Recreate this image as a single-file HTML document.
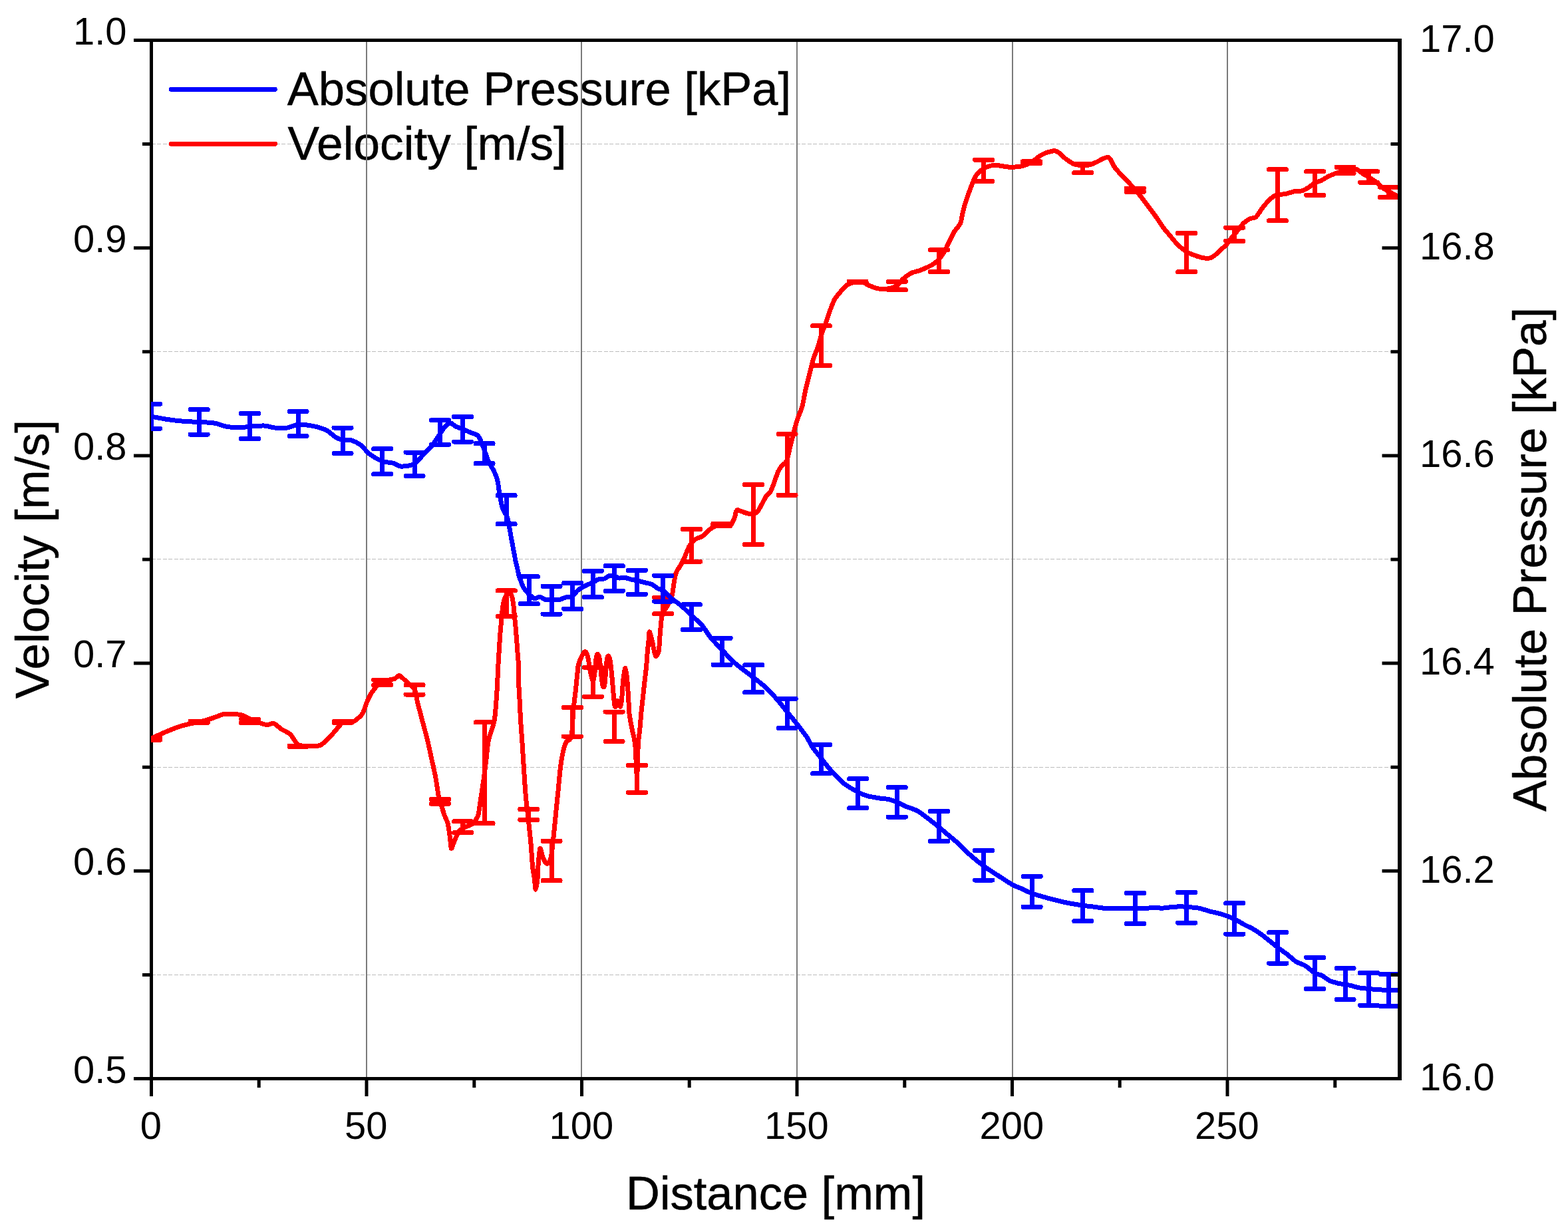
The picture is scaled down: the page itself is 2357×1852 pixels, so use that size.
<!DOCTYPE html>
<html lang="en"><head><meta charset="utf-8"><title>Velocity and Absolute Pressure vs Distance</title>
<style>
html,body{margin:0;padding:0;background:#fff;}
body{width:2357px;height:1852px;overflow:hidden;}
svg{display:block;}
text{font-family:"Liberation Sans",Arial,Helvetica,sans-serif;fill:#000;}
.l,.g{stroke:#000;stroke-width:0.5px;}
.t{font-size:57.9px;}
.l{font-size:70.4px;}
.g{font-size:70.4px;}
</style></head><body>
<svg width="2357" height="1852" viewBox="0 0 2357 1852">
<rect width="2357" height="1852" fill="#fff"/>
<defs><clipPath id="c"><rect x="227" y="60.5" width="1877.5" height="1561.0"/></clipPath></defs>

<path d="M227.5 1465.5H2104.5M227.5 1153.5H2104.5M227.5 840.5H2104.5M227.5 528.5H2104.5M227.5 216.5H2104.5" stroke="#bcbcbc" stroke-width="1" stroke-dasharray="6 2.5" fill="none" shape-rendering="crispEdges"/>
<text class="g" x="431.76" y="157.75" textLength="757.42" lengthAdjust="spacingAndGlyphs">Absolute Pressure [kPa]</text>
<text class="g" x="432.59" y="239.60" textLength="419.24" lengthAdjust="spacingAndGlyphs">Velocity [m/s]</text>
<path d="M551 60.5V1621.5M874 60.5V1621.5M1198 60.5V1621.5M1522 60.5V1621.5M1845 60.5V1621.5" stroke="#7a7a7a" stroke-width="2" fill="none" shape-rendering="crispEdges"/>
<path d="M2104.5 60.5H227.5V1621.5H2104.5M227.5 1621.5h-26.5M227.5 1309.3h-26.5M227.5 997.1h-26.5M227.5 684.9h-26.5M227.5 372.7h-26.5M227.5 60.5h-26.5M227.5 1465.4h-13.5M227.5 1153.2h-13.5M227.5 841.0h-13.5M227.5 528.8h-13.5M227.5 216.6h-13.5M227.5 1621.5v26.5M551.0 1621.5v26.5M874.5 1621.5v26.5M1198.0 1621.5v26.5M1521.5 1621.5v26.5M1845.0 1621.5v26.5M389.2 1621.5v13.5M712.8 1621.5v13.5M1036.2 1621.5v13.5M1359.8 1621.5v13.5M1683.2 1621.5v13.5M2006.8 1621.5v13.5" stroke="#000" stroke-width="5.0" fill="none" stroke-linejoin="miter"/>
<path d="M257.4 134.4H413.4" stroke="#0000ff" stroke-width="7" stroke-linecap="round" shape-rendering="crispEdges"/>
<path d="M257.4 216.3H413.4" stroke="#ff0000" stroke-width="7" stroke-linecap="round" shape-rendering="crispEdges"/>
<g clip-path="url(#c)" fill="none" stroke-linejoin="round" stroke-linecap="round" shape-rendering="crispEdges">
<path d="M227.6 1109.9C229.5 1109.0 238.7 1104.9 242.2 1103.3C245.7 1101.7 250.5 1099.6 253.9 1098.2C257.3 1096.8 264.2 1094.1 267.9 1092.8C271.6 1091.5 277.8 1089.8 282.0 1088.8C286.2 1087.8 295.0 1086.2 299.1 1085.3C303.2 1084.4 308.7 1082.9 312.4 1081.8C316.1 1080.7 323.4 1078.2 326.5 1077.1C329.6 1076.0 332.7 1074.1 335.8 1073.6C338.9 1073.1 346.2 1073.1 349.9 1073.3C353.6 1073.5 360.5 1074.2 363.9 1075.2C367.3 1076.2 372.2 1079.1 375.6 1080.6C379.0 1082.1 386.3 1085.3 389.7 1086.5C393.1 1087.7 398.4 1089.4 401.4 1089.5C404.4 1089.6 409.1 1086.8 411.9 1087.6C414.7 1088.4 419.2 1093.6 422.5 1095.8C425.8 1098.0 433.1 1100.9 436.5 1104.0C439.9 1107.1 444.3 1117.0 448.0 1119.3C451.7 1121.6 460.2 1121.5 464.6 1121.6C469.0 1121.7 477.3 1121.8 481.0 1120.4C484.7 1119.0 489.6 1114.1 492.7 1111.1C495.8 1108.1 501.4 1101.5 504.4 1098.2C507.4 1094.9 511.6 1088.2 515.0 1086.5C518.4 1084.8 526.3 1087.0 530.2 1085.3C534.1 1083.6 541.5 1077.5 544.3 1073.6C547.1 1069.7 549.4 1060.2 551.3 1056.0C553.2 1051.8 555.8 1045.7 558.3 1042.0C560.8 1038.3 566.6 1030.5 570.0 1027.9C573.4 1025.3 581.0 1023.5 584.1 1022.5C587.2 1021.5 591.2 1021.1 593.4 1020.2C595.6 1019.3 598.0 1014.9 600.5 1015.7C603.0 1016.5 609.2 1023.3 612.2 1026.0C615.2 1028.7 620.9 1032.1 623.0 1036.1C625.1 1040.1 626.1 1049.8 627.7 1056.2C629.3 1062.6 633.0 1076.5 635.0 1084.0C637.0 1091.5 640.7 1104.9 642.5 1112.4C644.3 1119.9 647.0 1132.5 648.6 1140.0C650.2 1147.5 653.4 1161.0 654.8 1168.6C656.2 1176.2 658.1 1190.9 659.3 1196.7C660.5 1202.5 662.9 1208.3 664.0 1212.0C665.1 1215.7 666.6 1221.3 667.8 1224.8C669.0 1228.3 672.0 1233.6 673.1 1238.0C674.2 1242.4 675.6 1253.0 676.3 1258.0C677.0 1263.0 677.5 1274.4 678.3 1275.5C679.1 1276.6 680.9 1269.4 682.4 1266.0C683.9 1262.6 687.6 1252.8 689.9 1249.8C692.2 1246.8 696.6 1244.8 699.3 1243.3C702.0 1241.8 708.3 1240.1 710.5 1238.5C712.7 1236.9 714.9 1232.8 716.0 1231.0C717.1 1229.2 718.0 1229.4 719.0 1224.8C720.0 1220.2 722.2 1204.2 723.3 1196.7C724.4 1189.2 726.5 1176.1 727.5 1168.6C728.5 1161.1 730.1 1148.0 731.0 1140.5C731.9 1133.0 732.9 1119.9 734.5 1112.4C736.1 1104.9 741.4 1091.8 742.9 1084.3C744.4 1076.8 745.2 1063.7 745.8 1056.2C746.4 1048.7 747.2 1035.6 747.6 1028.1C748.0 1020.6 748.6 1006.2 748.9 1000.0C749.2 993.8 749.6 988.0 750.0 981.8C750.4 975.6 751.3 960.2 751.8 953.7C752.3 947.2 753.2 938.6 753.7 933.1C754.2 927.6 755.0 916.9 755.6 912.5C756.2 908.1 757.5 902.8 758.4 900.3C759.3 897.8 761.1 895.2 762.0 894.0C762.9 892.8 764.1 891.4 765.0 891.5C765.9 891.6 767.8 892.5 768.7 894.5C769.6 896.5 770.9 902.7 771.5 906.8C772.1 910.9 772.9 920.6 773.4 925.6C773.9 930.6 774.8 939.3 775.2 944.3C775.6 949.3 776.3 958.0 776.7 963.0C777.1 968.0 777.7 976.8 778.1 981.8C778.5 986.8 779.3 994.3 779.5 1000.5C779.7 1006.7 779.6 1020.7 779.8 1028.1C780.0 1035.5 780.9 1048.7 781.3 1056.2C781.7 1063.7 782.2 1076.8 782.7 1084.3C783.2 1091.8 784.2 1104.9 784.7 1112.4C785.2 1119.9 786.0 1133.0 786.5 1140.5C787.0 1148.0 787.8 1161.1 788.3 1168.6C788.8 1176.1 789.6 1188.9 790.3 1196.7C791.0 1204.5 792.7 1218.3 793.7 1227.4C794.7 1236.5 796.8 1254.8 797.7 1264.8C798.6 1274.8 799.8 1294.8 800.5 1302.3C801.2 1309.8 802.7 1316.3 803.3 1321.0C803.9 1325.7 804.6 1337.5 805.2 1337.5C805.8 1337.5 807.5 1325.7 808.0 1321.0C808.5 1316.3 808.4 1308.3 808.9 1302.3C809.4 1296.3 810.8 1277.7 811.7 1275.7C812.6 1273.7 814.4 1284.5 815.5 1287.3C816.6 1290.1 819.0 1295.3 820.1 1296.7C821.2 1298.1 822.4 1298.9 823.5 1298.0C824.6 1297.1 826.9 1294.4 828.0 1290.0C829.1 1285.6 830.5 1273.1 831.4 1264.8C832.3 1256.5 834.1 1237.4 835.1 1227.4C836.1 1217.4 837.9 1199.9 838.9 1189.9C839.9 1179.9 841.6 1160.4 842.6 1152.4C843.6 1144.4 845.3 1134.8 846.4 1129.9C847.5 1125.0 849.7 1118.0 851.1 1115.5C852.5 1113.0 855.8 1113.3 857.0 1111.0C858.2 1108.7 859.4 1103.6 860.0 1098.4C860.6 1093.2 861.1 1077.6 861.5 1072.0C861.9 1066.4 862.6 1060.9 863.1 1056.2C863.6 1051.5 864.8 1042.8 865.4 1037.1C866.0 1031.4 867.3 1018.4 867.8 1013.7C868.3 1009.0 868.5 1004.5 868.9 1002.0C869.3 999.5 870.1 997.1 870.9 994.9C871.7 992.7 873.9 987.7 875.0 985.6C876.1 983.5 878.1 979.7 879.1 979.5C880.1 979.3 881.8 981.7 882.6 983.8C883.4 985.9 884.4 991.5 885.0 994.9C885.6 998.3 886.7 1005.7 887.3 1009.0C887.9 1012.3 889.2 1017.6 889.7 1019.5C890.2 1021.4 890.7 1023.6 891.1 1023.6C891.5 1023.6 892.3 1022.4 892.8 1019.5C893.3 1016.6 894.5 1006.1 894.9 1002.0C895.3 997.9 895.7 991.6 896.1 989.1C896.5 986.6 897.6 983.4 898.2 983.2C898.8 983.0 900.2 985.4 900.8 987.9C901.4 990.4 902.1 997.8 902.6 1002.0C903.1 1006.2 903.8 1015.6 904.3 1019.5C904.8 1023.4 905.7 1029.4 906.1 1031.2C906.5 1033.0 906.8 1033.1 907.2 1033.0C907.6 1032.9 908.3 1033.3 908.8 1030.1C909.3 1026.9 910.3 1013.7 910.7 1009.0C911.1 1004.3 911.5 997.9 911.9 994.9C912.3 991.9 913.1 987.0 913.7 986.2C914.3 985.4 915.7 987.0 916.3 989.1C916.9 991.2 917.9 997.9 918.4 1002.0C918.9 1006.1 919.7 1014.8 920.1 1019.5C920.5 1024.2 921.2 1032.9 921.6 1037.1C922.0 1041.3 922.5 1048.0 922.8 1051.1C923.1 1054.2 923.7 1058.9 924.0 1060.5C924.3 1062.1 924.9 1063.3 925.2 1062.9C925.5 1062.5 926.2 1058.9 926.6 1057.6C927.0 1056.3 927.8 1053.4 928.3 1053.3C928.8 1053.2 930.1 1055.8 930.7 1057.0C931.3 1058.2 932.1 1063.4 932.6 1062.3C933.1 1061.2 934.3 1053.7 934.8 1048.8C935.3 1043.9 936.0 1030.4 936.5 1025.4C937.0 1020.4 937.8 1014.1 938.3 1011.3C938.8 1008.5 939.5 1004.2 940.0 1004.5C940.5 1004.8 941.4 1010.9 941.8 1013.7C942.2 1016.5 942.6 1020.7 943.0 1025.4C943.4 1030.1 944.3 1042.6 944.7 1048.8C945.1 1055.0 945.2 1066.0 945.9 1072.2C946.6 1078.4 948.8 1089.3 950.0 1095.6C951.2 1101.9 953.7 1109.4 954.7 1119.1C955.7 1128.8 956.9 1168.0 957.5 1168.0C958.1 1168.0 958.7 1128.8 959.3 1119.1C959.9 1109.4 961.3 1101.9 961.9 1095.6C962.5 1089.3 963.2 1078.4 963.8 1072.2C964.4 1066.0 965.7 1055.0 966.4 1048.8C967.1 1042.6 968.2 1031.6 968.9 1025.4C969.6 1019.2 971.0 1008.3 971.6 1002.0C972.2 995.7 972.9 984.0 973.4 978.5C973.9 973.0 974.9 964.8 975.2 961.0C975.5 957.2 975.6 950.7 976.0 949.9C976.4 949.1 977.4 952.8 978.1 955.1C978.8 957.4 980.3 963.7 981.0 966.8C981.7 969.9 982.7 975.8 983.3 978.5C983.9 981.2 985.0 986.1 985.7 986.7C986.4 987.3 988.0 984.3 988.6 983.2C989.2 982.1 989.9 982.2 990.4 978.5C990.9 974.8 991.6 961.3 992.1 955.1C992.6 948.9 993.6 936.2 994.2 931.7C994.8 927.2 995.4 923.7 996.5 921.0C997.6 918.3 1000.7 915.2 1002.5 911.8C1004.3 908.4 1008.7 899.8 1010.0 895.8C1011.3 891.8 1011.7 885.5 1012.3 881.8C1012.9 878.1 1014.0 870.7 1014.6 867.7C1015.2 864.7 1016.1 861.3 1017.0 859.3C1017.9 857.3 1020.1 854.4 1021.2 852.7C1022.3 851.0 1023.9 848.1 1024.9 846.2C1025.9 844.3 1027.7 841.0 1028.7 838.7C1029.7 836.4 1031.4 831.7 1032.4 829.3C1033.4 826.9 1035.2 822.6 1036.2 820.9C1037.2 819.2 1038.8 817.5 1039.9 816.2C1041.0 814.9 1043.3 812.1 1044.6 811.1C1045.9 810.1 1047.9 809.3 1049.3 808.7C1050.7 808.1 1053.4 807.7 1054.9 806.8C1056.4 805.9 1059.0 803.6 1060.5 802.2C1062.0 800.8 1064.7 797.8 1066.2 796.5C1067.7 795.2 1070.3 793.7 1071.8 792.8C1073.3 791.9 1075.7 790.5 1077.4 790.0C1079.1 789.5 1081.7 789.1 1084.4 789.0C1087.1 788.9 1095.7 789.7 1098.0 789.0C1100.3 788.3 1100.9 785.0 1101.8 783.4C1102.7 781.8 1104.0 778.8 1104.6 776.9C1105.2 775.0 1105.8 770.8 1106.4 769.4C1107.0 768.0 1107.7 766.7 1108.8 766.6C1109.9 766.5 1113.0 768.2 1114.9 768.9C1116.8 769.6 1121.3 771.2 1123.3 771.7C1125.3 772.2 1127.9 772.8 1129.9 772.6C1131.9 772.4 1136.0 771.9 1138.0 770.0C1140.0 768.1 1143.1 761.6 1145.0 758.3C1146.9 755.0 1150.3 747.9 1152.0 745.4C1153.7 742.9 1156.3 742.3 1157.9 739.6C1159.5 736.9 1162.1 729.6 1163.7 725.5C1165.3 721.4 1168.0 712.5 1169.6 709.1C1171.2 705.7 1173.8 702.0 1175.5 699.8C1177.2 697.6 1180.8 696.8 1182.5 692.7C1184.2 688.6 1186.7 675.5 1188.3 669.3C1189.9 663.1 1192.8 651.2 1194.2 645.9C1195.6 640.6 1197.3 634.2 1198.9 629.5C1200.5 624.8 1204.3 616.4 1205.9 610.8C1207.5 605.2 1209.2 593.7 1210.6 587.4C1212.0 581.1 1214.8 570.2 1216.4 563.9C1218.0 557.6 1220.6 546.1 1222.3 540.5C1224.0 534.9 1227.4 527.4 1229.3 521.8C1231.2 516.2 1234.7 503.1 1236.3 498.4C1237.9 493.7 1239.4 491.1 1241.0 486.7C1242.6 482.3 1246.2 470.6 1248.1 465.6C1250.0 460.6 1252.9 452.9 1255.1 449.2C1257.3 445.5 1261.9 440.3 1264.4 437.5C1266.9 434.7 1271.3 429.8 1273.8 428.1C1276.3 426.4 1280.1 425.1 1283.2 424.6C1286.3 424.1 1294.1 424.0 1297.2 424.6C1300.3 425.2 1303.5 428.0 1306.6 429.3C1309.7 430.6 1317.0 433.4 1320.7 434.0C1324.4 434.6 1331.0 434.6 1334.7 434.0C1338.4 433.4 1345.2 431.3 1348.3 429.3C1351.4 427.3 1355.2 421.2 1358.1 418.7C1361.0 416.2 1366.7 412.1 1369.8 410.5C1372.9 408.9 1378.6 408.0 1381.5 407.0C1384.4 406.0 1388.4 404.3 1391.2 403.0C1394.0 401.7 1399.8 399.1 1402.5 397.3C1405.2 395.5 1409.3 392.3 1411.5 389.8C1413.7 387.3 1417.3 382.1 1419.3 378.6C1421.3 375.1 1424.8 367.6 1426.8 363.6C1428.8 359.6 1432.0 352.3 1434.3 348.6C1436.6 344.9 1442.0 339.5 1443.7 335.5C1445.4 331.5 1446.3 323.1 1447.4 318.6C1448.5 314.1 1450.8 305.8 1452.1 301.8C1453.4 297.8 1455.4 292.4 1456.8 288.7C1458.2 285.0 1460.9 277.2 1462.4 273.7C1463.9 270.2 1466.6 264.7 1468.1 262.4C1469.6 260.1 1472.0 258.2 1473.7 256.8C1475.4 255.4 1479.0 253.2 1481.2 252.1C1483.4 251.0 1487.8 249.3 1490.5 248.9C1493.2 248.5 1498.8 248.6 1501.8 248.9C1504.8 249.2 1510.3 250.5 1513.0 250.8C1515.7 251.1 1519.7 251.3 1522.4 251.2C1525.1 251.1 1530.9 250.8 1533.6 250.3C1536.3 249.8 1540.5 248.4 1543.0 247.4C1545.5 246.4 1549.9 244.4 1552.4 242.8C1554.9 241.2 1559.2 237.0 1561.7 235.3C1564.2 233.6 1568.6 231.3 1571.1 230.2C1573.6 229.1 1578.5 227.9 1580.5 227.4C1582.5 226.9 1584.6 226.5 1586.1 226.8C1587.6 227.1 1589.7 228.1 1591.7 229.6C1593.7 231.1 1598.4 236.0 1601.1 238.1C1603.8 240.2 1609.6 244.2 1612.3 245.6C1615.0 247.0 1619.2 248.0 1621.7 248.4C1624.2 248.8 1628.6 249.1 1631.1 248.9C1633.6 248.7 1637.9 247.9 1640.4 247.1C1642.9 246.3 1647.3 244.0 1649.8 242.8C1652.3 241.6 1657.1 239.0 1659.2 238.1C1661.3 237.2 1664.3 235.9 1665.7 236.2C1667.1 236.5 1668.4 238.3 1669.5 240.0C1670.6 241.7 1672.5 246.8 1674.1 249.3C1675.7 251.8 1679.3 256.2 1681.6 258.7C1683.9 261.2 1688.7 265.7 1691.0 268.1C1693.3 270.5 1696.4 274.3 1698.5 276.5C1700.6 278.7 1704.1 282.3 1706.4 284.9C1708.7 287.5 1712.7 292.7 1715.4 296.2C1718.1 299.7 1723.6 307.1 1726.6 311.1C1729.6 315.1 1734.8 321.8 1737.8 326.1C1740.8 330.4 1746.6 339.3 1749.4 343.0C1752.2 346.7 1756.0 350.9 1758.7 354.2C1761.4 357.5 1766.7 364.1 1770.0 367.4C1773.3 370.7 1780.5 376.5 1783.7 378.6C1786.9 380.7 1791.4 382.2 1794.3 383.3C1797.2 384.4 1802.6 386.3 1805.6 387.0C1808.6 387.7 1814.3 388.5 1816.8 388.3C1819.3 388.1 1822.0 386.7 1824.3 385.2C1826.6 383.7 1831.2 379.0 1833.7 376.7C1836.2 374.4 1840.5 371.0 1843.0 368.3C1845.5 365.6 1849.9 359.2 1852.4 356.1C1854.9 353.0 1859.5 347.6 1861.8 344.9C1864.1 342.2 1867.1 337.6 1869.3 335.5C1871.5 333.4 1876.1 330.2 1878.6 328.9C1881.1 327.6 1885.5 328.2 1888.0 326.1C1890.5 324.0 1894.9 316.2 1897.4 313.0C1899.9 309.8 1904.2 304.3 1906.7 301.8C1909.2 299.3 1913.6 295.6 1916.1 294.3C1918.6 293.0 1923.0 292.9 1925.5 292.4C1928.0 291.9 1932.1 291.5 1934.8 290.9C1937.5 290.3 1943.1 288.2 1946.1 287.7C1949.1 287.2 1954.6 287.5 1957.3 286.8C1960.0 286.1 1964.1 283.7 1966.7 282.1C1969.3 280.5 1974.1 276.0 1976.6 274.6C1979.1 273.2 1982.7 273.1 1985.4 271.8C1988.1 270.5 1993.7 266.7 1996.7 265.2C1999.7 263.7 2004.5 261.8 2007.9 260.6C2011.3 259.4 2018.7 256.7 2022.0 255.9C2025.3 255.1 2029.9 255.0 2032.3 254.9C2034.7 254.8 2037.6 254.0 2039.8 254.9C2042.0 255.8 2046.7 260.0 2049.1 261.5C2051.5 263.0 2054.9 264.5 2057.6 266.2C2060.3 267.9 2066.8 272.4 2069.7 274.6C2072.6 276.8 2076.7 281.3 2079.1 283.0C2081.5 284.7 2085.2 286.4 2087.5 287.7C2089.8 289.0 2093.7 291.2 2096.0 292.4C2098.3 293.6 2103.3 296.0 2104.4 296.5" stroke="#ff0000" stroke-width="7"/>
<path d="M214.1 1106.4h27.0a3.0 3.0 0 0 1 3.0 3.0v1.0a3.0 3.0 0 0 1 -3.0 3.0h-27.0a3.0 3.0 0 0 1 -3.0 -3.0v-1.0a3.0 3.0 0 0 1 3.0 -3.0zM214.1 1108.7h27.0a3.0 3.0 0 0 1 3.0 3.0v1.0a3.0 3.0 0 0 1 -3.0 3.0h-27.0a3.0 3.0 0 0 1 -3.0 -3.0v-1.0a3.0 3.0 0 0 1 3.0 -3.0zM224.1 1109.9h7v2.3h-7zM285.6 1080.6h27.0a3.0 3.0 0 0 1 3.0 3.0v1.0a3.0 3.0 0 0 1 -3.0 3.0h-27.0a3.0 3.0 0 0 1 -3.0 -3.0v-1.0a3.0 3.0 0 0 1 3.0 -3.0zM285.6 1083.0h27.0a3.0 3.0 0 0 1 3.0 3.0v1.0a3.0 3.0 0 0 1 -3.0 3.0h-27.0a3.0 3.0 0 0 1 -3.0 -3.0v-1.0a3.0 3.0 0 0 1 3.0 -3.0zM295.6 1084.1h7v2.4h-7zM362.1 1077.8h27.0a3.0 3.0 0 0 1 3.0 3.0v1.0a3.0 3.0 0 0 1 -3.0 3.0h-27.0a3.0 3.0 0 0 1 -3.0 -3.0v-1.0a3.0 3.0 0 0 1 3.0 -3.0zM362.1 1083.0h27.0a3.0 3.0 0 0 1 3.0 3.0v1.0a3.0 3.0 0 0 1 -3.0 3.0h-27.0a3.0 3.0 0 0 1 -3.0 -3.0v-1.0a3.0 3.0 0 0 1 3.0 -3.0zM372.1 1081.3h7v5.2h-7zM434.5 1117.6h27.0a3.0 3.0 0 0 1 3.0 3.0v1.0a3.0 3.0 0 0 1 -3.0 3.0h-27.0a3.0 3.0 0 0 1 -3.0 -3.0v-1.0a3.0 3.0 0 0 1 3.0 -3.0zM434.5 1119.0h27.0a3.0 3.0 0 0 1 3.0 3.0v1.0a3.0 3.0 0 0 1 -3.0 3.0h-27.0a3.0 3.0 0 0 1 -3.0 -3.0v-1.0a3.0 3.0 0 0 1 3.0 -3.0zM444.5 1121.1h7v1.4h-7zM501.5 1081.3h27.0a3.0 3.0 0 0 1 3.0 3.0v1.0a3.0 3.0 0 0 1 -3.0 3.0h-27.0a3.0 3.0 0 0 1 -3.0 -3.0v-1.0a3.0 3.0 0 0 1 3.0 -3.0zM501.5 1083.0h27.0a3.0 3.0 0 0 1 3.0 3.0v1.0a3.0 3.0 0 0 1 -3.0 3.0h-27.0a3.0 3.0 0 0 1 -3.0 -3.0v-1.0a3.0 3.0 0 0 1 3.0 -3.0zM511.5 1084.8h7v1.7h-7zM561.2 1018.6h27.0a3.0 3.0 0 0 1 3.0 3.0v1.0a3.0 3.0 0 0 1 -3.0 3.0h-27.0a3.0 3.0 0 0 1 -3.0 -3.0v-1.0a3.0 3.0 0 0 1 3.0 -3.0zM561.2 1026.3h27.0a3.0 3.0 0 0 1 3.0 3.0v1.0a3.0 3.0 0 0 1 -3.0 3.0h-27.0a3.0 3.0 0 0 1 -3.0 -3.0v-1.0a3.0 3.0 0 0 1 3.0 -3.0zM571.2 1022.1h7v7.7h-7zM609.5 1026.3h27.0a3.0 3.0 0 0 1 3.0 3.0v1.0a3.0 3.0 0 0 1 -3.0 3.0h-27.0a3.0 3.0 0 0 1 -3.0 -3.0v-1.0a3.0 3.0 0 0 1 3.0 -3.0zM609.5 1040.5h27.0a3.0 3.0 0 0 1 3.0 3.0v1.0a3.0 3.0 0 0 1 -3.0 3.0h-27.0a3.0 3.0 0 0 1 -3.0 -3.0v-1.0a3.0 3.0 0 0 1 3.0 -3.0zM619.5 1029.8h7v14.2h-7zM647.9 1198.0h27.0a3.0 3.0 0 0 1 3.0 3.0v1.0a3.0 3.0 0 0 1 -3.0 3.0h-27.0a3.0 3.0 0 0 1 -3.0 -3.0v-1.0a3.0 3.0 0 0 1 3.0 -3.0zM647.9 1204.7h27.0a3.0 3.0 0 0 1 3.0 3.0v1.0a3.0 3.0 0 0 1 -3.0 3.0h-27.0a3.0 3.0 0 0 1 -3.0 -3.0v-1.0a3.0 3.0 0 0 1 3.0 -3.0zM657.9 1201.5h7v6.7h-7zM682.1 1231.3h27.0a3.0 3.0 0 0 1 3.0 3.0v1.0a3.0 3.0 0 0 1 -3.0 3.0h-27.0a3.0 3.0 0 0 1 -3.0 -3.0v-1.0a3.0 3.0 0 0 1 3.0 -3.0zM682.1 1248.2h27.0a3.0 3.0 0 0 1 3.0 3.0v1.0a3.0 3.0 0 0 1 -3.0 3.0h-27.0a3.0 3.0 0 0 1 -3.0 -3.0v-1.0a3.0 3.0 0 0 1 3.0 -3.0zM692.1 1234.8h7v16.9h-7zM714.5 1082.4h27.0a3.0 3.0 0 0 1 3.0 3.0v1.0a3.0 3.0 0 0 1 -3.0 3.0h-27.0a3.0 3.0 0 0 1 -3.0 -3.0v-1.0a3.0 3.0 0 0 1 3.0 -3.0zM714.5 1234.2h27.0a3.0 3.0 0 0 1 3.0 3.0v1.0a3.0 3.0 0 0 1 -3.0 3.0h-27.0a3.0 3.0 0 0 1 -3.0 -3.0v-1.0a3.0 3.0 0 0 1 3.0 -3.0zM724.5 1085.9h7v151.8h-7zM747.7 884.4h27.0a3.0 3.0 0 0 1 3.0 3.0v1.0a3.0 3.0 0 0 1 -3.0 3.0h-27.0a3.0 3.0 0 0 1 -3.0 -3.0v-1.0a3.0 3.0 0 0 1 3.0 -3.0zM747.7 923.0h27.0a3.0 3.0 0 0 1 3.0 3.0v1.0a3.0 3.0 0 0 1 -3.0 3.0h-27.0a3.0 3.0 0 0 1 -3.0 -3.0v-1.0a3.0 3.0 0 0 1 3.0 -3.0zM757.7 887.9h7v38.6h-7zM781.3 1213.0h27.0a3.0 3.0 0 0 1 3.0 3.0v1.0a3.0 3.0 0 0 1 -3.0 3.0h-27.0a3.0 3.0 0 0 1 -3.0 -3.0v-1.0a3.0 3.0 0 0 1 3.0 -3.0zM781.3 1228.9h27.0a3.0 3.0 0 0 1 3.0 3.0v1.0a3.0 3.0 0 0 1 -3.0 3.0h-27.0a3.0 3.0 0 0 1 -3.0 -3.0v-1.0a3.0 3.0 0 0 1 3.0 -3.0zM791.3 1216.5h7v15.9h-7zM815.5 1260.8h27.0a3.0 3.0 0 0 1 3.0 3.0v1.0a3.0 3.0 0 0 1 -3.0 3.0h-27.0a3.0 3.0 0 0 1 -3.0 -3.0v-1.0a3.0 3.0 0 0 1 3.0 -3.0zM815.5 1320.3h27.0a3.0 3.0 0 0 1 3.0 3.0v1.0a3.0 3.0 0 0 1 -3.0 3.0h-27.0a3.0 3.0 0 0 1 -3.0 -3.0v-1.0a3.0 3.0 0 0 1 3.0 -3.0zM825.5 1264.3h7v59.5h-7zM846.9 1060.0h27.0a3.0 3.0 0 0 1 3.0 3.0v1.0a3.0 3.0 0 0 1 -3.0 3.0h-27.0a3.0 3.0 0 0 1 -3.0 -3.0v-1.0a3.0 3.0 0 0 1 3.0 -3.0zM846.9 1103.5h27.0a3.0 3.0 0 0 1 3.0 3.0v1.0a3.0 3.0 0 0 1 -3.0 3.0h-27.0a3.0 3.0 0 0 1 -3.0 -3.0v-1.0a3.0 3.0 0 0 1 3.0 -3.0zM856.9 1063.5h7v43.5h-7zM877.9 999.6h27.0a3.0 3.0 0 0 1 3.0 3.0v1.0a3.0 3.0 0 0 1 -3.0 3.0h-27.0a3.0 3.0 0 0 1 -3.0 -3.0v-1.0a3.0 3.0 0 0 1 3.0 -3.0zM877.9 1043.6h27.0a3.0 3.0 0 0 1 3.0 3.0v1.0a3.0 3.0 0 0 1 -3.0 3.0h-27.0a3.0 3.0 0 0 1 -3.0 -3.0v-1.0a3.0 3.0 0 0 1 3.0 -3.0zM887.9 1003.1h7v44.0h-7zM909.5 1066.5h27.0a3.0 3.0 0 0 1 3.0 3.0v1.0a3.0 3.0 0 0 1 -3.0 3.0h-27.0a3.0 3.0 0 0 1 -3.0 -3.0v-1.0a3.0 3.0 0 0 1 3.0 -3.0zM909.5 1111.0h27.0a3.0 3.0 0 0 1 3.0 3.0v1.0a3.0 3.0 0 0 1 -3.0 3.0h-27.0a3.0 3.0 0 0 1 -3.0 -3.0v-1.0a3.0 3.0 0 0 1 3.0 -3.0zM919.5 1070.0h7v44.5h-7zM944.0 1147.0h27.0a3.0 3.0 0 0 1 3.0 3.0v1.0a3.0 3.0 0 0 1 -3.0 3.0h-27.0a3.0 3.0 0 0 1 -3.0 -3.0v-1.0a3.0 3.0 0 0 1 3.0 -3.0zM944.0 1187.7h27.0a3.0 3.0 0 0 1 3.0 3.0v1.0a3.0 3.0 0 0 1 -3.0 3.0h-27.0a3.0 3.0 0 0 1 -3.0 -3.0v-1.0a3.0 3.0 0 0 1 3.0 -3.0zM954.0 1150.5h7v40.7h-7zM983.2 894.5h27.0a3.0 3.0 0 0 1 3.0 3.0v1.0a3.0 3.0 0 0 1 -3.0 3.0h-27.0a3.0 3.0 0 0 1 -3.0 -3.0v-1.0a3.0 3.0 0 0 1 3.0 -3.0zM983.2 919.3h27.0a3.0 3.0 0 0 1 3.0 3.0v1.0a3.0 3.0 0 0 1 -3.0 3.0h-27.0a3.0 3.0 0 0 1 -3.0 -3.0v-1.0a3.0 3.0 0 0 1 3.0 -3.0zM993.2 898.0h7v24.8h-7zM1026.0 792.1h27.0a3.0 3.0 0 0 1 3.0 3.0v1.0a3.0 3.0 0 0 1 -3.0 3.0h-27.0a3.0 3.0 0 0 1 -3.0 -3.0v-1.0a3.0 3.0 0 0 1 3.0 -3.0zM1026.0 840.8h27.0a3.0 3.0 0 0 1 3.0 3.0v1.0a3.0 3.0 0 0 1 -3.0 3.0h-27.0a3.0 3.0 0 0 1 -3.0 -3.0v-1.0a3.0 3.0 0 0 1 3.0 -3.0zM1036.0 795.6h7v48.7h-7zM1071.3 784.0h27.0a3.0 3.0 0 0 1 3.0 3.0v1.0a3.0 3.0 0 0 1 -3.0 3.0h-27.0a3.0 3.0 0 0 1 -3.0 -3.0v-1.0a3.0 3.0 0 0 1 3.0 -3.0zM1071.3 787.0h27.0a3.0 3.0 0 0 1 3.0 3.0v1.0a3.0 3.0 0 0 1 -3.0 3.0h-27.0a3.0 3.0 0 0 1 -3.0 -3.0v-1.0a3.0 3.0 0 0 1 3.0 -3.0zM1081.3 787.5h7v3.0h-7zM1119.1 725.1h27.0a3.0 3.0 0 0 1 3.0 3.0v1.0a3.0 3.0 0 0 1 -3.0 3.0h-27.0a3.0 3.0 0 0 1 -3.0 -3.0v-1.0a3.0 3.0 0 0 1 3.0 -3.0zM1119.1 815.0h27.0a3.0 3.0 0 0 1 3.0 3.0v1.0a3.0 3.0 0 0 1 -3.0 3.0h-27.0a3.0 3.0 0 0 1 -3.0 -3.0v-1.0a3.0 3.0 0 0 1 3.0 -3.0zM1129.1 728.6h7v89.9h-7zM1169.5 649.0h27.0a3.0 3.0 0 0 1 3.0 3.0v1.0a3.0 3.0 0 0 1 -3.0 3.0h-27.0a3.0 3.0 0 0 1 -3.0 -3.0v-1.0a3.0 3.0 0 0 1 3.0 -3.0zM1169.5 740.8h27.0a3.0 3.0 0 0 1 3.0 3.0v1.0a3.0 3.0 0 0 1 -3.0 3.0h-27.0a3.0 3.0 0 0 1 -3.0 -3.0v-1.0a3.0 3.0 0 0 1 3.0 -3.0zM1179.5 652.5h7v91.8h-7zM1221.0 486.4h27.0a3.0 3.0 0 0 1 3.0 3.0v1.0a3.0 3.0 0 0 1 -3.0 3.0h-27.0a3.0 3.0 0 0 1 -3.0 -3.0v-1.0a3.0 3.0 0 0 1 3.0 -3.0zM1221.0 545.9h27.0a3.0 3.0 0 0 1 3.0 3.0v1.0a3.0 3.0 0 0 1 -3.0 3.0h-27.0a3.0 3.0 0 0 1 -3.0 -3.0v-1.0a3.0 3.0 0 0 1 3.0 -3.0zM1231.0 489.9h7v59.5h-7zM1275.5 419.8h27.0a3.0 3.0 0 0 1 3.0 3.0v1.0a3.0 3.0 0 0 1 -3.0 3.0h-27.0a3.0 3.0 0 0 1 -3.0 -3.0v-1.0a3.0 3.0 0 0 1 3.0 -3.0zM1275.5 421.3h27.0a3.0 3.0 0 0 1 3.0 3.0v1.0a3.0 3.0 0 0 1 -3.0 3.0h-27.0a3.0 3.0 0 0 1 -3.0 -3.0v-1.0a3.0 3.0 0 0 1 3.0 -3.0zM1285.5 423.3h7v1.5h-7zM1334.8 419.9h27.0a3.0 3.0 0 0 1 3.0 3.0v1.0a3.0 3.0 0 0 1 -3.0 3.0h-27.0a3.0 3.0 0 0 1 -3.0 -3.0v-1.0a3.0 3.0 0 0 1 3.0 -3.0zM1334.8 432.1h27.0a3.0 3.0 0 0 1 3.0 3.0v1.0a3.0 3.0 0 0 1 -3.0 3.0h-27.0a3.0 3.0 0 0 1 -3.0 -3.0v-1.0a3.0 3.0 0 0 1 3.0 -3.0zM1344.8 423.4h7v12.2h-7zM1398.0 372.3h27.0a3.0 3.0 0 0 1 3.0 3.0v1.0a3.0 3.0 0 0 1 -3.0 3.0h-27.0a3.0 3.0 0 0 1 -3.0 -3.0v-1.0a3.0 3.0 0 0 1 3.0 -3.0zM1398.0 405.1h27.0a3.0 3.0 0 0 1 3.0 3.0v1.0a3.0 3.0 0 0 1 -3.0 3.0h-27.0a3.0 3.0 0 0 1 -3.0 -3.0v-1.0a3.0 3.0 0 0 1 3.0 -3.0zM1408.0 375.8h7v32.8h-7zM1465.2 236.8h27.0a3.0 3.0 0 0 1 3.0 3.0v1.0a3.0 3.0 0 0 1 -3.0 3.0h-27.0a3.0 3.0 0 0 1 -3.0 -3.0v-1.0a3.0 3.0 0 0 1 3.0 -3.0zM1465.2 268.9h27.0a3.0 3.0 0 0 1 3.0 3.0v1.0a3.0 3.0 0 0 1 -3.0 3.0h-27.0a3.0 3.0 0 0 1 -3.0 -3.0v-1.0a3.0 3.0 0 0 1 3.0 -3.0zM1475.2 240.3h7v32.1h-7zM1537.0 239.3h27.0a3.0 3.0 0 0 1 3.0 3.0v1.0a3.0 3.0 0 0 1 -3.0 3.0h-27.0a3.0 3.0 0 0 1 -3.0 -3.0v-1.0a3.0 3.0 0 0 1 3.0 -3.0zM1537.0 242.1h27.0a3.0 3.0 0 0 1 3.0 3.0v1.0a3.0 3.0 0 0 1 -3.0 3.0h-27.0a3.0 3.0 0 0 1 -3.0 -3.0v-1.0a3.0 3.0 0 0 1 3.0 -3.0zM1547.0 242.8h7v2.8h-7zM1614.2 243.0h27.0a3.0 3.0 0 0 1 3.0 3.0v1.0a3.0 3.0 0 0 1 -3.0 3.0h-27.0a3.0 3.0 0 0 1 -3.0 -3.0v-1.0a3.0 3.0 0 0 1 3.0 -3.0zM1614.2 256.1h27.0a3.0 3.0 0 0 1 3.0 3.0v1.0a3.0 3.0 0 0 1 -3.0 3.0h-27.0a3.0 3.0 0 0 1 -3.0 -3.0v-1.0a3.0 3.0 0 0 1 3.0 -3.0zM1624.2 246.5h7v13.1h-7zM1692.9 279.5h27.0a3.0 3.0 0 0 1 3.0 3.0v1.0a3.0 3.0 0 0 1 -3.0 3.0h-27.0a3.0 3.0 0 0 1 -3.0 -3.0v-1.0a3.0 3.0 0 0 1 3.0 -3.0zM1692.9 284.8h27.0a3.0 3.0 0 0 1 3.0 3.0v1.0a3.0 3.0 0 0 1 -3.0 3.0h-27.0a3.0 3.0 0 0 1 -3.0 -3.0v-1.0a3.0 3.0 0 0 1 3.0 -3.0zM1702.9 283.0h7v5.3h-7zM1770.2 347.0h27.0a3.0 3.0 0 0 1 3.0 3.0v1.0a3.0 3.0 0 0 1 -3.0 3.0h-27.0a3.0 3.0 0 0 1 -3.0 -3.0v-1.0a3.0 3.0 0 0 1 3.0 -3.0zM1770.2 405.1h27.0a3.0 3.0 0 0 1 3.0 3.0v1.0a3.0 3.0 0 0 1 -3.0 3.0h-27.0a3.0 3.0 0 0 1 -3.0 -3.0v-1.0a3.0 3.0 0 0 1 3.0 -3.0zM1780.2 350.5h7v58.1h-7zM1842.1 338.6h27.0a3.0 3.0 0 0 1 3.0 3.0v1.0a3.0 3.0 0 0 1 -3.0 3.0h-27.0a3.0 3.0 0 0 1 -3.0 -3.0v-1.0a3.0 3.0 0 0 1 3.0 -3.0zM1842.1 358.8h27.0a3.0 3.0 0 0 1 3.0 3.0v1.0a3.0 3.0 0 0 1 -3.0 3.0h-27.0a3.0 3.0 0 0 1 -3.0 -3.0v-1.0a3.0 3.0 0 0 1 3.0 -3.0zM1852.1 342.1h7v20.2h-7zM1906.9 251.4h27.0a3.0 3.0 0 0 1 3.0 3.0v1.0a3.0 3.0 0 0 1 -3.0 3.0h-27.0a3.0 3.0 0 0 1 -3.0 -3.0v-1.0a3.0 3.0 0 0 1 3.0 -3.0zM1906.9 328.3h27.0a3.0 3.0 0 0 1 3.0 3.0v1.0a3.0 3.0 0 0 1 -3.0 3.0h-27.0a3.0 3.0 0 0 1 -3.0 -3.0v-1.0a3.0 3.0 0 0 1 3.0 -3.0zM1916.9 254.9h7v76.9h-7zM1963.1 254.3h27.0a3.0 3.0 0 0 1 3.0 3.0v1.0a3.0 3.0 0 0 1 -3.0 3.0h-27.0a3.0 3.0 0 0 1 -3.0 -3.0v-1.0a3.0 3.0 0 0 1 3.0 -3.0zM1963.1 289.8h27.0a3.0 3.0 0 0 1 3.0 3.0v1.0a3.0 3.0 0 0 1 -3.0 3.0h-27.0a3.0 3.0 0 0 1 -3.0 -3.0v-1.0a3.0 3.0 0 0 1 3.0 -3.0zM1973.1 257.8h7v35.5h-7zM2008.5 247.7h27.0a3.0 3.0 0 0 1 3.0 3.0v1.0a3.0 3.0 0 0 1 -3.0 3.0h-27.0a3.0 3.0 0 0 1 -3.0 -3.0v-1.0a3.0 3.0 0 0 1 3.0 -3.0zM2008.5 257.1h27.0a3.0 3.0 0 0 1 3.0 3.0v1.0a3.0 3.0 0 0 1 -3.0 3.0h-27.0a3.0 3.0 0 0 1 -3.0 -3.0v-1.0a3.0 3.0 0 0 1 3.0 -3.0zM2018.5 251.2h7v9.4h-7zM2044.1 254.3h27.0a3.0 3.0 0 0 1 3.0 3.0v1.0a3.0 3.0 0 0 1 -3.0 3.0h-27.0a3.0 3.0 0 0 1 -3.0 -3.0v-1.0a3.0 3.0 0 0 1 3.0 -3.0zM2044.1 270.7h27.0a3.0 3.0 0 0 1 3.0 3.0v1.0a3.0 3.0 0 0 1 -3.0 3.0h-27.0a3.0 3.0 0 0 1 -3.0 -3.0v-1.0a3.0 3.0 0 0 1 3.0 -3.0zM2054.1 257.8h7v16.4h-7zM2074.0 277.7h27.0a3.0 3.0 0 0 1 3.0 3.0v1.0a3.0 3.0 0 0 1 -3.0 3.0h-27.0a3.0 3.0 0 0 1 -3.0 -3.0v-1.0a3.0 3.0 0 0 1 3.0 -3.0zM2074.0 293.0h27.0a3.0 3.0 0 0 1 3.0 3.0v1.0a3.0 3.0 0 0 1 -3.0 3.0h-27.0a3.0 3.0 0 0 1 -3.0 -3.0v-1.0a3.0 3.0 0 0 1 3.0 -3.0zM2084.0 281.2h7v15.3h-7z" fill="#ff0000" stroke="none"/>
<path d="M227.6 626.2C230.2 626.7 242.1 628.9 246.8 629.7C251.5 630.5 258.5 631.5 263.2 632.0C267.9 632.5 277.2 633.4 282.0 633.7C286.8 634.0 293.8 634.1 299.1 634.4C304.4 634.7 316.3 635.1 321.8 636.0C327.3 636.9 335.5 640.3 340.5 641.2C345.5 642.1 354.6 643.0 359.3 643.0C364.0 643.0 370.6 641.6 375.6 641.2C380.6 640.8 391.7 639.8 396.7 640.0C401.7 640.2 408.4 642.6 413.1 643.0C417.8 643.4 427.2 643.6 431.9 643.0C436.6 642.4 443.0 638.8 448.0 638.4C453.0 638.0 463.6 639.1 469.3 640.2C475.0 641.3 485.7 644.3 490.4 646.6C495.1 648.9 501.1 655.1 504.4 657.1C507.7 659.1 511.9 660.7 515.0 661.3C518.1 661.9 524.3 660.8 527.9 661.8C531.5 662.8 538.2 666.0 541.9 668.8C545.6 671.6 551.6 679.6 556.0 682.9C560.4 686.2 570.0 691.6 574.7 693.4C579.4 695.2 587.4 695.2 591.1 696.2C594.8 697.2 598.5 700.9 602.8 701.1C607.1 701.3 618.4 700.0 623.0 697.4C627.6 694.8 634.1 685.4 637.5 681.8C640.9 678.2 646.0 673.8 648.7 670.5C651.4 667.2 655.6 661.0 658.1 657.4C660.6 653.8 664.9 646.3 667.4 643.4C669.9 640.5 674.5 636.3 676.8 635.9C679.1 635.5 681.8 639.4 684.3 640.6C686.8 641.8 692.6 644.0 695.6 645.2C698.6 646.4 703.8 648.6 706.8 649.9C709.8 651.2 715.7 652.6 718.0 654.6C720.3 656.6 722.2 661.5 723.7 664.9C725.2 668.3 727.8 675.9 729.3 679.9C730.8 683.9 733.2 691.2 734.9 694.9C736.6 698.6 740.7 704.3 742.4 708.0C744.1 711.7 746.9 718.5 748.0 723.0C749.1 727.5 749.8 736.2 750.8 741.7C751.8 747.2 753.9 759.2 755.5 764.2C757.1 769.2 761.3 773.2 763.0 779.2C764.7 785.2 767.1 801.2 768.6 809.2C770.1 817.2 773.3 834.3 774.2 839.2C775.1 844.1 775.0 842.9 775.6 845.6C776.2 848.3 778.3 857.1 778.9 859.8C779.5 862.5 779.2 863.1 780.3 866.2C781.4 869.3 784.9 879.5 786.8 883.0C788.7 886.5 792.0 890.1 794.3 892.4C796.6 894.7 801.4 899.3 803.7 899.9C806.0 900.5 808.9 896.8 811.2 897.1C813.5 897.4 818.2 901.3 820.6 901.8C823.0 902.3 826.5 901.2 829.0 901.2C831.5 901.2 836.4 902.2 839.3 901.8C842.2 901.4 847.8 898.7 850.5 898.0C853.2 897.3 857.4 897.7 859.9 896.2C862.4 894.7 866.6 888.9 869.3 886.8C872.0 884.7 877.6 881.7 880.5 880.2C883.4 878.7 888.9 876.8 891.4 875.6C893.9 874.4 897.0 871.7 899.3 870.9C901.6 870.1 906.4 870.7 908.6 869.9C910.8 869.1 914.2 865.7 916.1 865.2C918.0 864.7 921.2 865.7 923.2 866.2C925.2 866.7 929.0 868.7 931.1 869.0C933.2 869.3 936.3 867.8 938.6 868.1C940.9 868.4 945.5 870.3 948.0 870.9C950.5 871.5 954.6 872.1 957.3 872.7C960.0 873.3 965.6 874.8 968.6 875.6C971.6 876.4 977.1 877.2 979.8 878.4C982.5 879.6 986.9 883.7 989.2 884.9C991.5 886.1 994.0 885.7 996.7 887.7C999.4 889.7 1006.1 896.8 1009.8 899.9C1013.5 903.0 1020.9 907.7 1024.8 911.1C1028.7 914.5 1035.4 921.4 1039.4 925.2C1043.4 929.0 1051.0 934.9 1054.8 939.3C1058.6 943.7 1063.9 953.0 1067.9 958.0C1071.9 963.0 1080.1 971.5 1085.1 976.7C1090.1 981.9 1098.9 991.7 1105.3 997.3C1111.7 1002.9 1126.6 1013.6 1132.8 1018.5C1139.0 1023.4 1146.8 1029.4 1151.5 1033.8C1156.2 1038.2 1163.7 1046.5 1167.9 1051.3C1172.1 1056.1 1179.0 1065.1 1183.1 1070.1C1187.2 1075.1 1194.5 1083.8 1198.4 1088.8C1202.3 1093.8 1209.3 1102.8 1212.4 1107.5C1215.5 1112.2 1218.8 1119.5 1221.8 1123.9C1224.8 1128.3 1231.0 1135.6 1234.7 1140.3C1238.4 1145.0 1245.4 1154.1 1249.9 1159.1C1254.4 1164.1 1263.3 1173.6 1268.6 1177.8C1273.9 1182.0 1285.0 1188.2 1289.7 1190.7C1294.4 1193.2 1299.3 1195.3 1303.7 1196.5C1308.1 1197.7 1318.1 1199.3 1322.5 1200.0C1326.9 1200.7 1333.1 1200.9 1336.5 1201.7C1339.9 1202.5 1344.8 1204.5 1348.2 1205.9C1351.6 1207.3 1358.2 1210.8 1362.3 1212.5C1366.4 1214.2 1374.3 1216.4 1378.7 1218.8C1383.1 1221.2 1390.7 1227.2 1395.1 1230.5C1399.5 1233.8 1407.1 1239.8 1411.5 1243.4C1415.9 1247.0 1423.8 1254.0 1427.9 1257.4C1432.0 1260.8 1438.2 1265.7 1441.9 1269.1C1445.6 1272.5 1451.1 1278.8 1456.0 1283.2C1460.9 1287.6 1473.1 1297.7 1478.7 1301.9C1484.3 1306.1 1492.3 1311.1 1498.1 1314.8C1503.9 1318.5 1517.0 1327.2 1522.0 1330.0C1527.0 1332.8 1531.7 1334.2 1535.6 1335.9C1539.5 1337.6 1545.9 1341.1 1551.1 1343.0C1556.3 1344.9 1568.3 1348.2 1574.9 1350.0C1581.5 1351.8 1593.6 1355.0 1600.7 1356.5C1607.8 1358.0 1622.0 1360.3 1627.9 1361.2C1633.8 1362.1 1640.4 1362.7 1645.2 1363.3C1650.0 1363.9 1658.3 1365.4 1663.9 1365.7C1669.5 1366.0 1681.7 1365.9 1687.4 1365.9C1693.1 1365.9 1701.6 1365.8 1706.6 1365.7C1711.6 1365.6 1721.1 1365.4 1724.8 1365.2C1728.5 1365.0 1731.4 1364.0 1734.2 1364.0C1737.0 1364.0 1742.8 1365.2 1745.9 1365.2C1749.0 1365.2 1754.2 1364.3 1757.6 1364.0C1761.0 1363.7 1768.2 1363.0 1771.7 1362.9C1775.2 1362.8 1779.5 1363.0 1783.6 1363.3C1787.7 1363.6 1797.4 1364.3 1802.1 1365.2C1806.8 1366.1 1813.8 1368.6 1818.5 1369.9C1823.2 1371.2 1832.2 1373.0 1837.2 1374.6C1842.2 1376.2 1851.3 1379.6 1855.7 1381.6C1860.1 1383.6 1866.2 1387.8 1870.0 1389.8C1873.8 1391.8 1880.4 1394.6 1884.1 1396.8C1887.8 1399.0 1893.2 1402.5 1898.1 1406.2C1903.0 1409.9 1915.8 1420.5 1920.7 1424.3C1925.6 1428.1 1931.5 1432.0 1935.1 1434.8C1938.7 1437.6 1944.2 1443.0 1947.8 1445.3C1951.4 1447.6 1958.0 1449.4 1961.8 1451.7C1965.6 1454.0 1973.2 1460.9 1976.6 1462.9C1980.0 1464.9 1984.2 1464.9 1987.1 1466.4C1990.0 1467.9 1995.0 1472.5 1998.4 1474.1C2001.8 1475.7 2009.3 1477.6 2012.4 1478.4C2015.5 1479.2 2019.4 1479.3 2022.0 1479.8C2024.6 1480.3 2029.4 1481.2 2032.1 1481.9C2034.8 1482.6 2038.5 1484.1 2041.9 1484.7C2045.3 1485.3 2054.1 1486.1 2057.7 1486.5C2061.3 1486.9 2064.6 1487.2 2068.6 1487.5C2072.6 1487.8 2083.1 1488.3 2087.6 1488.5C2092.1 1488.7 2100.3 1488.8 2102.3 1488.9" stroke="#0000ff" stroke-width="7"/>
<path d="M214.1 603.7h27.0a3.0 3.0 0 0 1 3.0 3.0v1.0a3.0 3.0 0 0 1 -3.0 3.0h-27.0a3.0 3.0 0 0 1 -3.0 -3.0v-1.0a3.0 3.0 0 0 1 3.0 -3.0zM214.1 640.7h27.0a3.0 3.0 0 0 1 3.0 3.0v1.0a3.0 3.0 0 0 1 -3.0 3.0h-27.0a3.0 3.0 0 0 1 -3.0 -3.0v-1.0a3.0 3.0 0 0 1 3.0 -3.0zM224.1 607.2h7v37.0h-7zM285.6 612.1h27.0a3.0 3.0 0 0 1 3.0 3.0v1.0a3.0 3.0 0 0 1 -3.0 3.0h-27.0a3.0 3.0 0 0 1 -3.0 -3.0v-1.0a3.0 3.0 0 0 1 3.0 -3.0zM285.6 649.6h27.0a3.0 3.0 0 0 1 3.0 3.0v1.0a3.0 3.0 0 0 1 -3.0 3.0h-27.0a3.0 3.0 0 0 1 -3.0 -3.0v-1.0a3.0 3.0 0 0 1 3.0 -3.0zM295.6 615.6h7v37.5h-7zM362.1 618.0h27.0a3.0 3.0 0 0 1 3.0 3.0v1.0a3.0 3.0 0 0 1 -3.0 3.0h-27.0a3.0 3.0 0 0 1 -3.0 -3.0v-1.0a3.0 3.0 0 0 1 3.0 -3.0zM362.1 655.9h27.0a3.0 3.0 0 0 1 3.0 3.0v1.0a3.0 3.0 0 0 1 -3.0 3.0h-27.0a3.0 3.0 0 0 1 -3.0 -3.0v-1.0a3.0 3.0 0 0 1 3.0 -3.0zM372.1 621.5h7v37.9h-7zM434.5 615.0h27.0a3.0 3.0 0 0 1 3.0 3.0v1.0a3.0 3.0 0 0 1 -3.0 3.0h-27.0a3.0 3.0 0 0 1 -3.0 -3.0v-1.0a3.0 3.0 0 0 1 3.0 -3.0zM434.5 652.0h27.0a3.0 3.0 0 0 1 3.0 3.0v1.0a3.0 3.0 0 0 1 -3.0 3.0h-27.0a3.0 3.0 0 0 1 -3.0 -3.0v-1.0a3.0 3.0 0 0 1 3.0 -3.0zM444.5 618.5h7v37.0h-7zM501.5 639.5h27.0a3.0 3.0 0 0 1 3.0 3.0v1.0a3.0 3.0 0 0 1 -3.0 3.0h-27.0a3.0 3.0 0 0 1 -3.0 -3.0v-1.0a3.0 3.0 0 0 1 3.0 -3.0zM501.5 678.0h27.0a3.0 3.0 0 0 1 3.0 3.0v1.0a3.0 3.0 0 0 1 -3.0 3.0h-27.0a3.0 3.0 0 0 1 -3.0 -3.0v-1.0a3.0 3.0 0 0 1 3.0 -3.0zM511.5 643.0h7v38.5h-7zM561.2 671.2h27.0a3.0 3.0 0 0 1 3.0 3.0v1.0a3.0 3.0 0 0 1 -3.0 3.0h-27.0a3.0 3.0 0 0 1 -3.0 -3.0v-1.0a3.0 3.0 0 0 1 3.0 -3.0zM561.2 709.3h27.0a3.0 3.0 0 0 1 3.0 3.0v1.0a3.0 3.0 0 0 1 -3.0 3.0h-27.0a3.0 3.0 0 0 1 -3.0 -3.0v-1.0a3.0 3.0 0 0 1 3.0 -3.0zM571.2 674.7h7v38.1h-7zM609.5 676.5h27.0a3.0 3.0 0 0 1 3.0 3.0v1.0a3.0 3.0 0 0 1 -3.0 3.0h-27.0a3.0 3.0 0 0 1 -3.0 -3.0v-1.0a3.0 3.0 0 0 1 3.0 -3.0zM609.5 712.1h27.0a3.0 3.0 0 0 1 3.0 3.0v1.0a3.0 3.0 0 0 1 -3.0 3.0h-27.0a3.0 3.0 0 0 1 -3.0 -3.0v-1.0a3.0 3.0 0 0 1 3.0 -3.0zM619.5 680.0h7v35.6h-7zM648.0 628.3h27.0a3.0 3.0 0 0 1 3.0 3.0v1.0a3.0 3.0 0 0 1 -3.0 3.0h-27.0a3.0 3.0 0 0 1 -3.0 -3.0v-1.0a3.0 3.0 0 0 1 3.0 -3.0zM648.0 664.8h27.0a3.0 3.0 0 0 1 3.0 3.0v1.0a3.0 3.0 0 0 1 -3.0 3.0h-27.0a3.0 3.0 0 0 1 -3.0 -3.0v-1.0a3.0 3.0 0 0 1 3.0 -3.0zM658.0 631.8h7v36.5h-7zM682.1 623.0h27.0a3.0 3.0 0 0 1 3.0 3.0v1.0a3.0 3.0 0 0 1 -3.0 3.0h-27.0a3.0 3.0 0 0 1 -3.0 -3.0v-1.0a3.0 3.0 0 0 1 3.0 -3.0zM682.1 660.5h27.0a3.0 3.0 0 0 1 3.0 3.0v1.0a3.0 3.0 0 0 1 -3.0 3.0h-27.0a3.0 3.0 0 0 1 -3.0 -3.0v-1.0a3.0 3.0 0 0 1 3.0 -3.0zM692.1 626.5h7v37.5h-7zM714.5 663.3h27.0a3.0 3.0 0 0 1 3.0 3.0v1.0a3.0 3.0 0 0 1 -3.0 3.0h-27.0a3.0 3.0 0 0 1 -3.0 -3.0v-1.0a3.0 3.0 0 0 1 3.0 -3.0zM714.5 693.3h27.0a3.0 3.0 0 0 1 3.0 3.0v1.0a3.0 3.0 0 0 1 -3.0 3.0h-27.0a3.0 3.0 0 0 1 -3.0 -3.0v-1.0a3.0 3.0 0 0 1 3.0 -3.0zM724.5 666.8h7v30.0h-7zM747.6 741.2h27.0a3.0 3.0 0 0 1 3.0 3.0v1.0a3.0 3.0 0 0 1 -3.0 3.0h-27.0a3.0 3.0 0 0 1 -3.0 -3.0v-1.0a3.0 3.0 0 0 1 3.0 -3.0zM747.6 784.3h27.0a3.0 3.0 0 0 1 3.0 3.0v1.0a3.0 3.0 0 0 1 -3.0 3.0h-27.0a3.0 3.0 0 0 1 -3.0 -3.0v-1.0a3.0 3.0 0 0 1 3.0 -3.0zM757.6 744.7h7v43.1h-7zM781.8 863.1h27.0a3.0 3.0 0 0 1 3.0 3.0v1.0a3.0 3.0 0 0 1 -3.0 3.0h-27.0a3.0 3.0 0 0 1 -3.0 -3.0v-1.0a3.0 3.0 0 0 1 3.0 -3.0zM781.8 904.3h27.0a3.0 3.0 0 0 1 3.0 3.0v1.0a3.0 3.0 0 0 1 -3.0 3.0h-27.0a3.0 3.0 0 0 1 -3.0 -3.0v-1.0a3.0 3.0 0 0 1 3.0 -3.0zM791.8 866.6h7v41.2h-7zM815.5 877.7h27.0a3.0 3.0 0 0 1 3.0 3.0v1.0a3.0 3.0 0 0 1 -3.0 3.0h-27.0a3.0 3.0 0 0 1 -3.0 -3.0v-1.0a3.0 3.0 0 0 1 3.0 -3.0zM815.5 919.5h27.0a3.0 3.0 0 0 1 3.0 3.0v1.0a3.0 3.0 0 0 1 -3.0 3.0h-27.0a3.0 3.0 0 0 1 -3.0 -3.0v-1.0a3.0 3.0 0 0 1 3.0 -3.0zM825.5 881.2h7v41.8h-7zM847.3 873.0h27.0a3.0 3.0 0 0 1 3.0 3.0v1.0a3.0 3.0 0 0 1 -3.0 3.0h-27.0a3.0 3.0 0 0 1 -3.0 -3.0v-1.0a3.0 3.0 0 0 1 3.0 -3.0zM847.3 911.8h27.0a3.0 3.0 0 0 1 3.0 3.0v1.0a3.0 3.0 0 0 1 -3.0 3.0h-27.0a3.0 3.0 0 0 1 -3.0 -3.0v-1.0a3.0 3.0 0 0 1 3.0 -3.0zM857.3 876.5h7v38.8h-7zM877.9 854.8h27.0a3.0 3.0 0 0 1 3.0 3.0v1.0a3.0 3.0 0 0 1 -3.0 3.0h-27.0a3.0 3.0 0 0 1 -3.0 -3.0v-1.0a3.0 3.0 0 0 1 3.0 -3.0zM877.9 894.2h27.0a3.0 3.0 0 0 1 3.0 3.0v1.0a3.0 3.0 0 0 1 -3.0 3.0h-27.0a3.0 3.0 0 0 1 -3.0 -3.0v-1.0a3.0 3.0 0 0 1 3.0 -3.0zM887.9 858.3h7v39.4h-7zM909.7 847.3h27.0a3.0 3.0 0 0 1 3.0 3.0v1.0a3.0 3.0 0 0 1 -3.0 3.0h-27.0a3.0 3.0 0 0 1 -3.0 -3.0v-1.0a3.0 3.0 0 0 1 3.0 -3.0zM909.7 884.8h27.0a3.0 3.0 0 0 1 3.0 3.0v1.0a3.0 3.0 0 0 1 -3.0 3.0h-27.0a3.0 3.0 0 0 1 -3.0 -3.0v-1.0a3.0 3.0 0 0 1 3.0 -3.0zM919.7 850.8h7v37.5h-7zM943.8 853.7h27.0a3.0 3.0 0 0 1 3.0 3.0v1.0a3.0 3.0 0 0 1 -3.0 3.0h-27.0a3.0 3.0 0 0 1 -3.0 -3.0v-1.0a3.0 3.0 0 0 1 3.0 -3.0zM943.8 889.8h27.0a3.0 3.0 0 0 1 3.0 3.0v1.0a3.0 3.0 0 0 1 -3.0 3.0h-27.0a3.0 3.0 0 0 1 -3.0 -3.0v-1.0a3.0 3.0 0 0 1 3.0 -3.0zM953.8 857.2h7v36.1h-7zM983.2 861.7h27.0a3.0 3.0 0 0 1 3.0 3.0v1.0a3.0 3.0 0 0 1 -3.0 3.0h-27.0a3.0 3.0 0 0 1 -3.0 -3.0v-1.0a3.0 3.0 0 0 1 3.0 -3.0zM983.2 900.5h27.0a3.0 3.0 0 0 1 3.0 3.0v1.0a3.0 3.0 0 0 1 -3.0 3.0h-27.0a3.0 3.0 0 0 1 -3.0 -3.0v-1.0a3.0 3.0 0 0 1 3.0 -3.0zM993.2 865.2h7v38.8h-7zM1025.9 905.4h27.0a3.0 3.0 0 0 1 3.0 3.0v1.0a3.0 3.0 0 0 1 -3.0 3.0h-27.0a3.0 3.0 0 0 1 -3.0 -3.0v-1.0a3.0 3.0 0 0 1 3.0 -3.0zM1025.9 942.9h27.0a3.0 3.0 0 0 1 3.0 3.0v1.0a3.0 3.0 0 0 1 -3.0 3.0h-27.0a3.0 3.0 0 0 1 -3.0 -3.0v-1.0a3.0 3.0 0 0 1 3.0 -3.0zM1035.9 908.9h7v37.5h-7zM1071.6 955.8h27.0a3.0 3.0 0 0 1 3.0 3.0v1.0a3.0 3.0 0 0 1 -3.0 3.0h-27.0a3.0 3.0 0 0 1 -3.0 -3.0v-1.0a3.0 3.0 0 0 1 3.0 -3.0zM1071.6 995.7h27.0a3.0 3.0 0 0 1 3.0 3.0v1.0a3.0 3.0 0 0 1 -3.0 3.0h-27.0a3.0 3.0 0 0 1 -3.0 -3.0v-1.0a3.0 3.0 0 0 1 3.0 -3.0zM1081.6 959.3h7v39.9h-7zM1119.3 996.3h27.0a3.0 3.0 0 0 1 3.0 3.0v1.0a3.0 3.0 0 0 1 -3.0 3.0h-27.0a3.0 3.0 0 0 1 -3.0 -3.0v-1.0a3.0 3.0 0 0 1 3.0 -3.0zM1119.3 1037.3h27.0a3.0 3.0 0 0 1 3.0 3.0v1.0a3.0 3.0 0 0 1 -3.0 3.0h-27.0a3.0 3.0 0 0 1 -3.0 -3.0v-1.0a3.0 3.0 0 0 1 3.0 -3.0zM1129.3 999.8h7v41.0h-7zM1169.6 1046.9h27.0a3.0 3.0 0 0 1 3.0 3.0v1.0a3.0 3.0 0 0 1 -3.0 3.0h-27.0a3.0 3.0 0 0 1 -3.0 -3.0v-1.0a3.0 3.0 0 0 1 3.0 -3.0zM1169.6 1090.9h27.0a3.0 3.0 0 0 1 3.0 3.0v1.0a3.0 3.0 0 0 1 -3.0 3.0h-27.0a3.0 3.0 0 0 1 -3.0 -3.0v-1.0a3.0 3.0 0 0 1 3.0 -3.0zM1179.6 1050.4h7v44.0h-7zM1221.2 1116.2h27.0a3.0 3.0 0 0 1 3.0 3.0v1.0a3.0 3.0 0 0 1 -3.0 3.0h-27.0a3.0 3.0 0 0 1 -3.0 -3.0v-1.0a3.0 3.0 0 0 1 3.0 -3.0zM1221.2 1159.3h27.0a3.0 3.0 0 0 1 3.0 3.0v1.0a3.0 3.0 0 0 1 -3.0 3.0h-27.0a3.0 3.0 0 0 1 -3.0 -3.0v-1.0a3.0 3.0 0 0 1 3.0 -3.0zM1231.2 1119.7h7v43.1h-7zM1276.2 1167.3h27.0a3.0 3.0 0 0 1 3.0 3.0v1.0a3.0 3.0 0 0 1 -3.0 3.0h-27.0a3.0 3.0 0 0 1 -3.0 -3.0v-1.0a3.0 3.0 0 0 1 3.0 -3.0zM1276.2 1211.3h27.0a3.0 3.0 0 0 1 3.0 3.0v1.0a3.0 3.0 0 0 1 -3.0 3.0h-27.0a3.0 3.0 0 0 1 -3.0 -3.0v-1.0a3.0 3.0 0 0 1 3.0 -3.0zM1286.2 1170.8h7v44.0h-7zM1334.7 1180.2h27.0a3.0 3.0 0 0 1 3.0 3.0v1.0a3.0 3.0 0 0 1 -3.0 3.0h-27.0a3.0 3.0 0 0 1 -3.0 -3.0v-1.0a3.0 3.0 0 0 1 3.0 -3.0zM1334.7 1224.6h27.0a3.0 3.0 0 0 1 3.0 3.0v1.0a3.0 3.0 0 0 1 -3.0 3.0h-27.0a3.0 3.0 0 0 1 -3.0 -3.0v-1.0a3.0 3.0 0 0 1 3.0 -3.0zM1344.7 1183.7h7v44.4h-7zM1398.0 1216.0h27.0a3.0 3.0 0 0 1 3.0 3.0v1.0a3.0 3.0 0 0 1 -3.0 3.0h-27.0a3.0 3.0 0 0 1 -3.0 -3.0v-1.0a3.0 3.0 0 0 1 3.0 -3.0zM1398.0 1260.9h27.0a3.0 3.0 0 0 1 3.0 3.0v1.0a3.0 3.0 0 0 1 -3.0 3.0h-27.0a3.0 3.0 0 0 1 -3.0 -3.0v-1.0a3.0 3.0 0 0 1 3.0 -3.0zM1408.0 1219.5h7v44.9h-7zM1465.2 1275.0h27.0a3.0 3.0 0 0 1 3.0 3.0v1.0a3.0 3.0 0 0 1 -3.0 3.0h-27.0a3.0 3.0 0 0 1 -3.0 -3.0v-1.0a3.0 3.0 0 0 1 3.0 -3.0zM1465.2 1319.5h27.0a3.0 3.0 0 0 1 3.0 3.0v1.0a3.0 3.0 0 0 1 -3.0 3.0h-27.0a3.0 3.0 0 0 1 -3.0 -3.0v-1.0a3.0 3.0 0 0 1 3.0 -3.0zM1475.2 1278.5h7v44.5h-7zM1537.6 1313.9h27.0a3.0 3.0 0 0 1 3.0 3.0v1.0a3.0 3.0 0 0 1 -3.0 3.0h-27.0a3.0 3.0 0 0 1 -3.0 -3.0v-1.0a3.0 3.0 0 0 1 3.0 -3.0zM1537.6 1359.8h27.0a3.0 3.0 0 0 1 3.0 3.0v1.0a3.0 3.0 0 0 1 -3.0 3.0h-27.0a3.0 3.0 0 0 1 -3.0 -3.0v-1.0a3.0 3.0 0 0 1 3.0 -3.0zM1547.6 1317.4h7v45.9h-7zM1614.4 1335.2h27.0a3.0 3.0 0 0 1 3.0 3.0v1.0a3.0 3.0 0 0 1 -3.0 3.0h-27.0a3.0 3.0 0 0 1 -3.0 -3.0v-1.0a3.0 3.0 0 0 1 3.0 -3.0zM1614.4 1381.1h27.0a3.0 3.0 0 0 1 3.0 3.0v1.0a3.0 3.0 0 0 1 -3.0 3.0h-27.0a3.0 3.0 0 0 1 -3.0 -3.0v-1.0a3.0 3.0 0 0 1 3.0 -3.0zM1624.4 1338.7h7v45.9h-7zM1693.1 1339.0h27.0a3.0 3.0 0 0 1 3.0 3.0v1.0a3.0 3.0 0 0 1 -3.0 3.0h-27.0a3.0 3.0 0 0 1 -3.0 -3.0v-1.0a3.0 3.0 0 0 1 3.0 -3.0zM1693.1 1384.9h27.0a3.0 3.0 0 0 1 3.0 3.0v1.0a3.0 3.0 0 0 1 -3.0 3.0h-27.0a3.0 3.0 0 0 1 -3.0 -3.0v-1.0a3.0 3.0 0 0 1 3.0 -3.0zM1703.1 1342.5h7v45.9h-7zM1770.1 1338.0h27.0a3.0 3.0 0 0 1 3.0 3.0v1.0a3.0 3.0 0 0 1 -3.0 3.0h-27.0a3.0 3.0 0 0 1 -3.0 -3.0v-1.0a3.0 3.0 0 0 1 3.0 -3.0zM1770.1 1383.7h27.0a3.0 3.0 0 0 1 3.0 3.0v1.0a3.0 3.0 0 0 1 -3.0 3.0h-27.0a3.0 3.0 0 0 1 -3.0 -3.0v-1.0a3.0 3.0 0 0 1 3.0 -3.0zM1780.1 1341.5h7v45.7h-7zM1842.2 1354.2h27.0a3.0 3.0 0 0 1 3.0 3.0v1.0a3.0 3.0 0 0 1 -3.0 3.0h-27.0a3.0 3.0 0 0 1 -3.0 -3.0v-1.0a3.0 3.0 0 0 1 3.0 -3.0zM1842.2 1400.6h27.0a3.0 3.0 0 0 1 3.0 3.0v1.0a3.0 3.0 0 0 1 -3.0 3.0h-27.0a3.0 3.0 0 0 1 -3.0 -3.0v-1.0a3.0 3.0 0 0 1 3.0 -3.0zM1852.2 1357.7h7v46.4h-7zM1907.2 1398.3h27.0a3.0 3.0 0 0 1 3.0 3.0v1.0a3.0 3.0 0 0 1 -3.0 3.0h-27.0a3.0 3.0 0 0 1 -3.0 -3.0v-1.0a3.0 3.0 0 0 1 3.0 -3.0zM1907.2 1444.6h27.0a3.0 3.0 0 0 1 3.0 3.0v1.0a3.0 3.0 0 0 1 -3.0 3.0h-27.0a3.0 3.0 0 0 1 -3.0 -3.0v-1.0a3.0 3.0 0 0 1 3.0 -3.0zM1917.2 1401.8h7v46.3h-7zM1963.1 1435.8h27.0a3.0 3.0 0 0 1 3.0 3.0v1.0a3.0 3.0 0 0 1 -3.0 3.0h-27.0a3.0 3.0 0 0 1 -3.0 -3.0v-1.0a3.0 3.0 0 0 1 3.0 -3.0zM1963.1 1483.0h27.0a3.0 3.0 0 0 1 3.0 3.0v1.0a3.0 3.0 0 0 1 -3.0 3.0h-27.0a3.0 3.0 0 0 1 -3.0 -3.0v-1.0a3.0 3.0 0 0 1 3.0 -3.0zM1973.1 1439.3h7v47.2h-7zM2008.5 1452.1h27.0a3.0 3.0 0 0 1 3.0 3.0v1.0a3.0 3.0 0 0 1 -3.0 3.0h-27.0a3.0 3.0 0 0 1 -3.0 -3.0v-1.0a3.0 3.0 0 0 1 3.0 -3.0zM2008.5 1499.0h27.0a3.0 3.0 0 0 1 3.0 3.0v1.0a3.0 3.0 0 0 1 -3.0 3.0h-27.0a3.0 3.0 0 0 1 -3.0 -3.0v-1.0a3.0 3.0 0 0 1 3.0 -3.0zM2018.5 1455.6h7v46.9h-7zM2044.2 1459.0h27.0a3.0 3.0 0 0 1 3.0 3.0v1.0a3.0 3.0 0 0 1 -3.0 3.0h-27.0a3.0 3.0 0 0 1 -3.0 -3.0v-1.0a3.0 3.0 0 0 1 3.0 -3.0zM2044.2 1507.9h27.0a3.0 3.0 0 0 1 3.0 3.0v1.0a3.0 3.0 0 0 1 -3.0 3.0h-27.0a3.0 3.0 0 0 1 -3.0 -3.0v-1.0a3.0 3.0 0 0 1 3.0 -3.0zM2054.2 1462.5h7v48.9h-7zM2074.1 1460.8h27.0a3.0 3.0 0 0 1 3.0 3.0v1.0a3.0 3.0 0 0 1 -3.0 3.0h-27.0a3.0 3.0 0 0 1 -3.0 -3.0v-1.0a3.0 3.0 0 0 1 3.0 -3.0zM2074.1 1508.6h27.0a3.0 3.0 0 0 1 3.0 3.0v1.0a3.0 3.0 0 0 1 -3.0 3.0h-27.0a3.0 3.0 0 0 1 -3.0 -3.0v-1.0a3.0 3.0 0 0 1 3.0 -3.0zM2084.1 1464.3h7v47.8h-7z" fill="#0000ff" stroke="none"/>
</g>
<path d="M2104.0 1621.5h-26.5M2104.0 1309.3h-26.5M2104.0 997.1h-26.5M2104.0 684.9h-26.5M2104.0 372.7h-26.5M2104.0 60.5h-26.5M2104.0 1465.4h-13.5M2104.0 1153.2h-13.5M2104.0 841.0h-13.5M2104.0 528.8h-13.5M2104.0 216.6h-13.5" stroke="#000" stroke-width="5.0" fill="none"/>
<path d="M2104 58.0V1624.0" stroke="#000" stroke-width="6" fill="none"/>
<text class="t" x="190.5" y="1627.5" text-anchor="end">0.5</text>
<text class="t" x="2134.0" y="1638.7">16.0</text>
<text class="t" x="190.5" y="1315.3" text-anchor="end">0.6</text>
<text class="t" x="2134.0" y="1326.5">16.2</text>
<text class="t" x="190.5" y="1003.1" text-anchor="end">0.7</text>
<text class="t" x="2134.0" y="1014.3">16.4</text>
<text class="t" x="190.5" y="690.9" text-anchor="end">0.8</text>
<text class="t" x="2134.0" y="702.1">16.6</text>
<text class="t" x="190.5" y="378.7" text-anchor="end">0.9</text>
<text class="t" x="2134.0" y="389.9">16.8</text>
<text class="t" x="190.5" y="66.5" text-anchor="end">1.0</text>
<text class="t" x="2134.0" y="77.7">17.0</text>
<text class="t" x="226.8" y="1711.7" text-anchor="middle">0</text>
<text class="t" x="550.3" y="1711.7" text-anchor="middle">50</text>
<text class="t" x="873.8" y="1711.7" text-anchor="middle">100</text>
<text class="t" x="1197.3" y="1711.7" text-anchor="middle">150</text>
<text class="t" x="1520.8" y="1711.7" text-anchor="middle">200</text>
<text class="t" x="1844.3" y="1711.7" text-anchor="middle">250</text>
<text class="l" x="941.12" y="1818.00" textLength="449.95" lengthAdjust="spacingAndGlyphs">Distance [mm]</text>
<text class="l" transform="translate(73.00 1049.90) rotate(-90)" x="-0.31" y="0" textLength="419.24" lengthAdjust="spacingAndGlyphs">Velocity [m/s]</text>
<text class="l" transform="translate(2324.00 1219.90) rotate(-90)" x="-0.14" y="0" textLength="758.08" lengthAdjust="spacingAndGlyphs">Absolute Pressure [kPa]</text>
</svg></body></html>
